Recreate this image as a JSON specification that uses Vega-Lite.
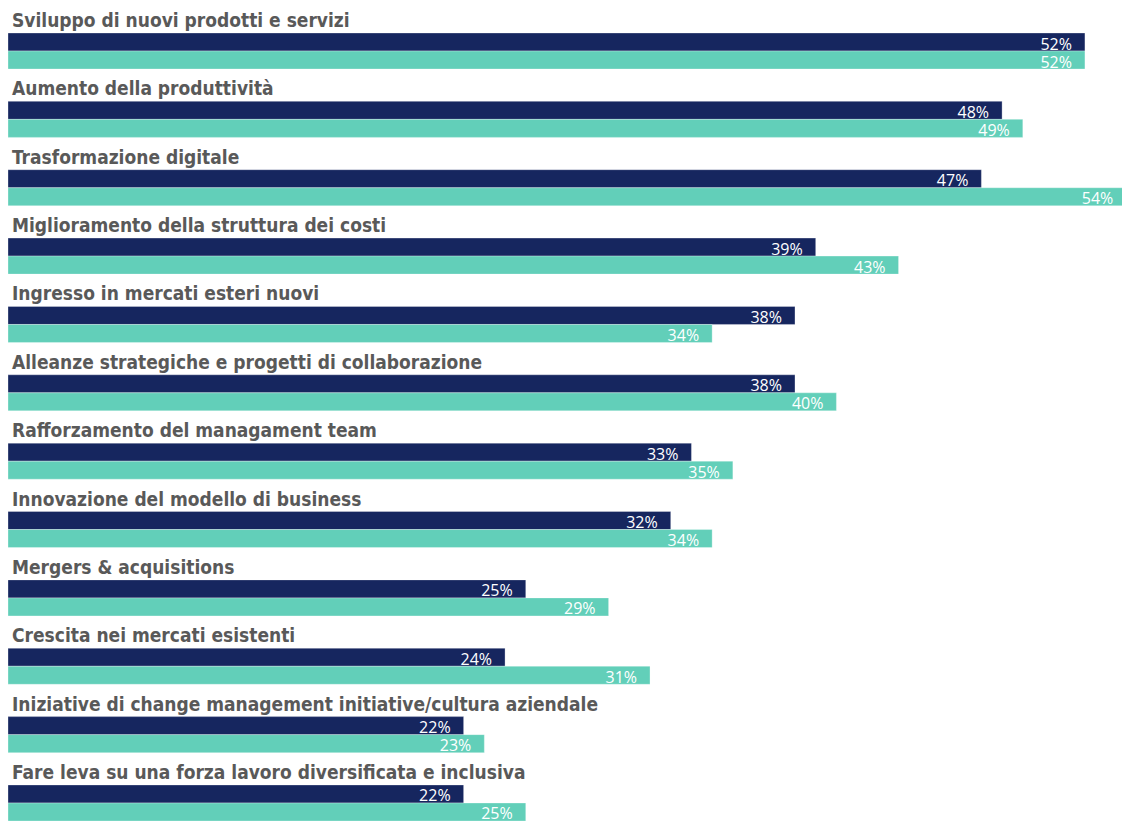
{
  "$schema": "https://vega.github.io/schema/vega-lite/v6.json",
  "width": 1114,
  "height": 788,
  "autosize": {"type": "none"},
  "padding": {"left": 8, "top": 33, "right": 0, "bottom": 2},
  "background": "white",
  "config": {"view": {"stroke": null}},
  "data": {"values": [
    {"cat": "Sviluppo di nuovi prodotti e servizi", "series": "A", "value": 0.52},
    {"cat": "Sviluppo di nuovi prodotti e servizi", "series": "B", "value": 0.52},
    {"cat": "Aumento della produttività", "series": "A", "value": 0.48},
    {"cat": "Aumento della produttività", "series": "B", "value": 0.49},
    {"cat": "Trasformazione digitale", "series": "A", "value": 0.47},
    {"cat": "Trasformazione digitale", "series": "B", "value": 0.54},
    {"cat": "Miglioramento della struttura dei costi", "series": "A", "value": 0.39},
    {"cat": "Miglioramento della struttura dei costi", "series": "B", "value": 0.43},
    {"cat": "Ingresso in mercati esteri nuovi", "series": "A", "value": 0.38},
    {"cat": "Ingresso in mercati esteri nuovi", "series": "B", "value": 0.34},
    {"cat": "Alleanze strategiche e progetti di collaborazione", "series": "A", "value": 0.38},
    {"cat": "Alleanze strategiche e progetti di collaborazione", "series": "B", "value": 0.40},
    {"cat": "Rafforzamento del managament team", "series": "A", "value": 0.33},
    {"cat": "Rafforzamento del managament team", "series": "B", "value": 0.35},
    {"cat": "Innovazione del modello di business", "series": "A", "value": 0.32},
    {"cat": "Innovazione del modello di business", "series": "B", "value": 0.34},
    {"cat": "Mergers & acquisitions", "series": "A", "value": 0.25},
    {"cat": "Mergers & acquisitions", "series": "B", "value": 0.29},
    {"cat": "Crescita nei mercati esistenti", "series": "A", "value": 0.24},
    {"cat": "Crescita nei mercati esistenti", "series": "B", "value": 0.31},
    {"cat": "Iniziative di change management initiative/cultura aziendale", "series": "A", "value": 0.22},
    {"cat": "Iniziative di change management initiative/cultura aziendale", "series": "B", "value": 0.23},
    {"cat": "Fare leva su una forza lavoro diversificata e inclusiva", "series": "A", "value": 0.22},
    {"cat": "Fare leva su una forza lavoro diversificata e inclusiva", "series": "B", "value": 0.25}
  ]},
  "encoding": {
    "y": {"field": "cat", "type": "nominal", "sort": null, "axis": null,
          "scale": {"paddingInner": 0.473, "paddingOuter": 0}}
  },
  "layer": [
    {
      "mark": {"type": "bar", "stroke": "white", "strokeWidth": 0.5, "strokeOpacity": 0.6},
      "encoding": {
        "x": {"field": "value", "type": "quantitative", "axis": null, "scale": {"domain": [0, 0.5379], "nice": false, "zero": true}},
        "yOffset": {"field": "series", "type": "nominal", "sort": ["A", "B"], "scale": {"paddingInner": 0, "paddingOuter": 0}},
        "color": {"field": "series", "type": "nominal", "legend": null,
                  "scale": {"domain": ["A", "B"], "range": ["#16265f", "#62cfb9"]}}
      }
    },
    {
      "mark": {"type": "text", "align": "right", "baseline": "alphabetic", "dx": -13, "dy": 7.5,
               "font": "Open Sans", "fontSize": 16, "color": "white"},
      "encoding": {
        "x": {"field": "value", "type": "quantitative", "scale": {"domain": [0, 0.5379], "nice": false, "zero": true}},
        "yOffset": {"field": "series", "type": "nominal", "sort": ["A", "B"], "scale": {"paddingInner": 0, "paddingOuter": 0}},
        "text": {"field": "value", "type": "quantitative", "format": ".0%"},
        "detail": {"field": "series"}
      }
    },
    {
      "transform": [{"filter": "datum.series === 'A'"}],
      "mark": {"type": "text", "align": "left", "baseline": "alphabetic", "dx": 4, "dy": -24,
               "font": "'DejaVu Sans Condensed', 'Liberation Sans Narrow', 'Arial Narrow', sans-serif", "fontWeight": "bold", "fontSize": 19, "color": "#595959"},
      "encoding": {
        "x": {"datum": 0, "type": "quantitative", "scale": {"domain": [0, 0.5379], "nice": false, "zero": true}},
        "text": {"field": "cat"}
      }
    }
  ]
}
